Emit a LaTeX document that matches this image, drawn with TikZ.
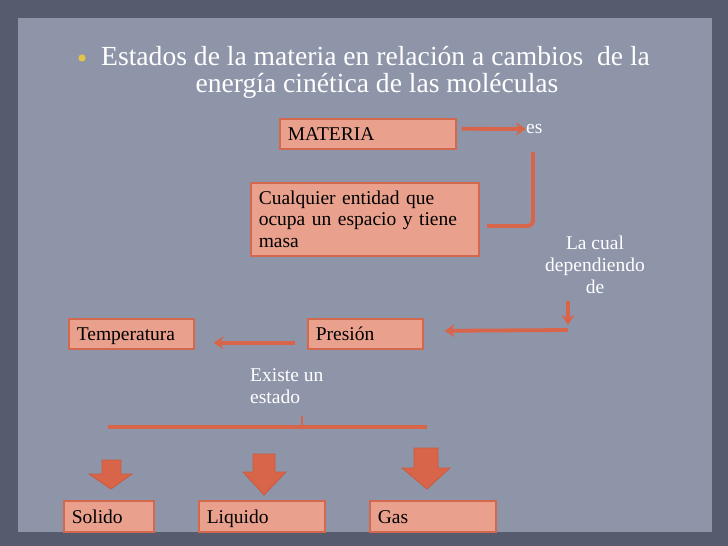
\documentclass[tikz,border=0pt]{standalone}
\usepackage{fontspec}
\setmainfont{Liberation Serif}
\usetikzlibrary{arrows.meta,calc}
\definecolor{outerbg}{RGB}{86,92,110}
\definecolor{panelbg}{RGB}{142,149,169}
\definecolor{boxfill}{RGB}{233,160,141}
\definecolor{boxline}{RGB}{210,105,78}
\definecolor{arrowc}{RGB}{216,101,74}
\definecolor{blockline}{RGB}{200,90,64}
\definecolor{bulletc}{RGB}{226,196,70}
\newcommand\boxstrut{\rule[-5pt]{0pt}{24pt}}
\tikzset{
  box/.style={draw=boxline, fill=boxfill, line width=1.6pt, inner xsep=8pt, inner ysep=2pt,
    align=left, anchor=north west, text=black, font=\fontsize{19.5}{21.5}\selectfont},
  lbl/.style={text=white, font=\fontsize{19.5}{22}\selectfont, inner sep=0pt},
  conn/.style={draw=arrowc, line width=3.8pt},
  arr/.style={conn, -{Stealth[length=10pt,width=13pt]}},
  blockarrow/.style={fill=arrowc, draw=blockline, line width=0.8pt, line join=miter}
}
\begin{document}
\begin{tikzpicture}[x=1pt,y=-1pt]
\useasboundingbox (0,0) rectangle (728,546);
\fill[outerbg] (0,0) rectangle (728,546);
\fill[panelbg] (18,18) rectangle (712,532);
% title
\fill[bulletc] (82,58) circle (3.6);
\node[anchor=base west, text=white, font=\fontsize{27.6}{30}\selectfont, inner sep=0pt] (t1) at (101,65) {Estados de la materia en relación a cambios \ de la};
\node[anchor=base, text=white, font=\fontsize{27.6}{30}\selectfont, inner sep=0pt] (t2) at (377,92) {energía cinética de las moléculas};
% boxes
\node[box, text width=160pt, minimum height=30pt] (materia) at (279,118) {\boxstrut MATERIA};
\node[box, text width=212pt, minimum height=73pt] (cualq) at (250,182) {Cualquier entidad que\\ocupa un espacio y tiene\\masa};
\node[box, text width=99pt, minimum height=30pt] (presion) at (307,318) {\boxstrut Presión};
\node[box, text width=109pt, minimum height=30pt] (temp) at (68,318) {\boxstrut Temperatura};
\node[box, text width=74pt, minimum height=31pt] (solido) at (63,500) {\boxstrut Solido};
\node[box, text width=110pt, minimum height=31pt] (liquido) at (198,500) {\boxstrut Liquido};
\node[box, text width=110pt, minimum height=31pt] (gas) at (369,500) {\boxstrut Gas};
% labels
\node[lbl, anchor=west] (es) at (526,129) {es};
\node[lbl, align=center] (lacual) at (595,265) {La cual\\dependiendo\\de};
\node[lbl, align=left, anchor=north west] (existe) at (250,368) {Existe un\\estado};
% connectors
\draw[arr] ([xshift=5pt,yshift=5pt]materia.east) -- (es.west);
\coordinate (b1) at (533,152);
\coordinate (b2) at (487,226);
\draw[conn, rounded corners=5pt] (b1) -- (b1 |- b2) -- (b2);
\coordinate (d1) at (568,301);
\coordinate (d2) at (568,325);
\draw[arr] (d1) -- (d2);
\coordinate (h1) at (568,330);
\draw[arr] (h1) -- ([xshift=21pt,yshift=3pt]presion.east);
\draw[arr] ([xshift=-12pt,yshift=-9pt]presion.west) -- ([xshift=19pt,yshift=-9pt]temp.east);
\coordinate (l1) at (108,427);
\coordinate (l2) at (427,427);
\coordinate (tk) at (302,416);
\draw[conn, line width=3.4pt] (l1) -- (l2);
\draw[conn, line width=2.8pt] (tk) -- (tk |- l1);
% block arrows
\draw[blockarrow] (102,460) -- (121,460) -- (121,474) -- (132,474) -- (111,489) -- (89,474) -- (102,474) -- cycle;
\draw[blockarrow] (253,454) -- (275,454) -- (275,472) -- (286,472) -- (264,495) -- (243,472) -- (253,472) -- cycle;
\draw[blockarrow] (414,448) -- (438,448) -- (438,468) -- (450,468) -- (427,489) -- (402,468) -- (414,468) -- cycle;
\end{tikzpicture}
\end{document}
